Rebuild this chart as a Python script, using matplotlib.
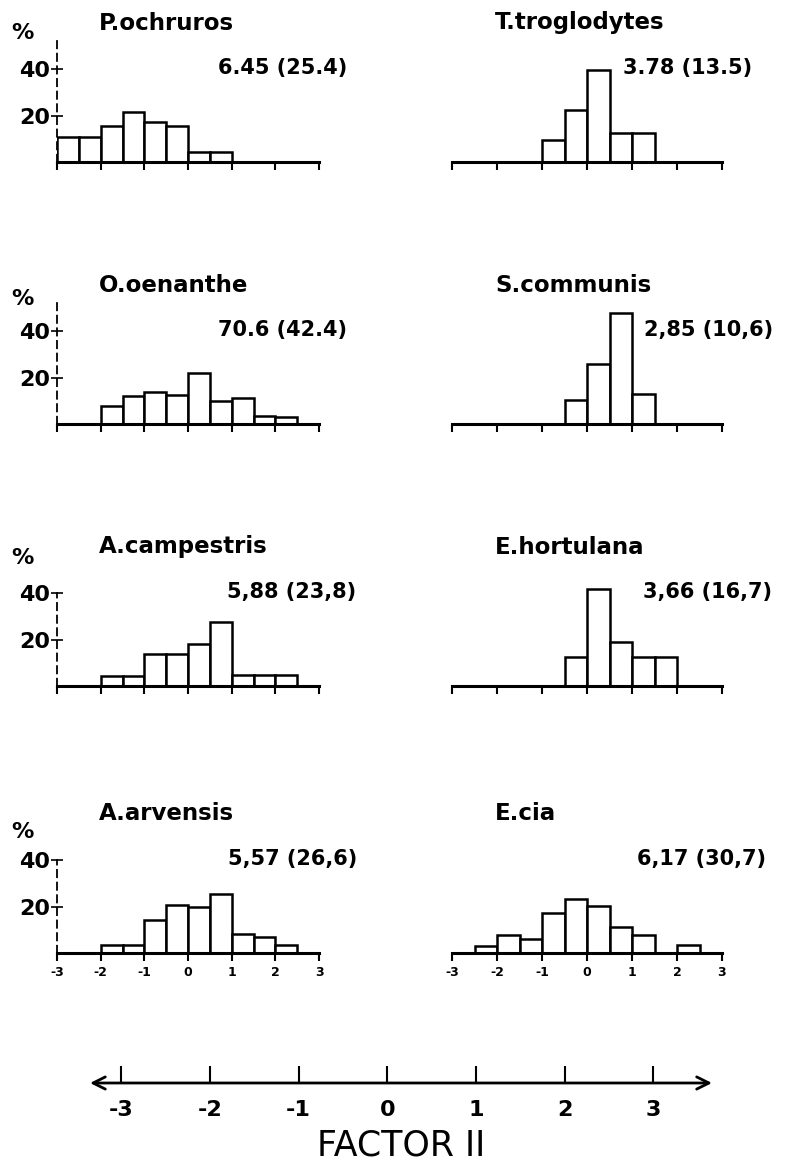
import matplotlib
matplotlib.use("Agg")
import matplotlib.pyplot as plt

# bins of width 0.5 from -3 to 3, values in %
bin_left = [-3.0, -2.5, -2.0, -1.5, -1.0, -0.5, 0.0, 0.5, 1.0, 1.5, 2.0, 2.5]

species = ["P.ochruros", "T.troglodytes", "O.oenanthe", "S.communis",
           "A.campestris", "E.hortulana", "A.arvensis", "E.cia"]
stats = ["6.45 (25.4)", "3.78 (13.5)", "70.6 (42.4)", "2,85 (10,6)",
         "5,88 (23,8)", "3,66 (16,7)", "5,57 (26,6)", "6,17 (30,7)"]

ochruros = [10.8, 10.8, 15.5, 21.6, 17.2, 15.5, 4.3, 4.3, 0, 0, 0, 0]
troglodytes = [0, 0, 0, 0, 9.3, 22.6, 39.8, 12.5, 12.5, 0, 0, 0]
oenanthe = [0, 0, 7.6, 12.2, 13.8, 12.5, 22.0, 10.0, 11.0, 3.3, 2.9, 0]
communis = [0, 0, 0, 0, 0, 10.2, 26.0, 48.0, 13.0, 0, 0, 0]
campestris = [0, 0, 4.3, 4.3, 13.8, 13.8, 18.1, 27.4, 4.7, 4.7, 4.7, 0]
hortulana = [0, 0, 0, 0, 0, 12.6, 41.8, 18.8, 12.6, 12.6, 0, 0]
arvensis = [0, 0, 3.3, 3.3, 14.1, 20.8, 19.8, 25.4, 8.2, 6.7, 3.3, 0]
cia = [0, 2.9, 7.6, 6.0, 17.2, 23.4, 20.1, 11.0, 7.6, 0, 3.3, 0]
series = [ochruros, troglodytes, oenanthe, communis,
          campestris, hortulana, arvensis, cia]

xticks = [-3, -2, -1, 0, 1, 2, 3]
xtick_labels = ["-3", "-2", "-1", "0", "1", "2", "3"]

W, H = 785, 1166
fig = plt.figure(figsize=(W / 100, H / 100), dpi=100)
plt.rcParams['font.family'] = ['DejaVu Sans']

baselines = [162, 424, 686, 953]
col_x = [(57, 319), (452, 722)]
title_x = [99, 495]
stat_x = [[218, 623], [218, 644], [227, 643], [228, 637]]
pct_y = [33, 299, 558, 832]
dash_top = [52, 52, 40, 40]
px_per = 2.32
ymax = 55

for i, (name, st, vals) in enumerate(zip(species, stats, series)):
    row, col = divmod(i, 2)
    base = baselines[row]
    x0, x1 = col_x[col]
    ax = fig.add_axes([x0 / W, 1 - base / H, (x1 - x0) / W, ymax * px_per / H])
    xs = [b for b, v in zip(bin_left, vals) if v > 0]
    hs = [v for v in vals if v > 0]
    ax.bar(xs, hs, width=0.5, align='edge', facecolor='white',
           edgecolor='black', linewidth=1.8, zorder=2)
    ax.set_xlim(-3, 3)
    ax.set_ylim(0, ymax)
    ax.spines['top'].set_visible(False)
    ax.spines['right'].set_visible(False)
    ax.spines['bottom'].set_linewidth(2.2)
    ax.spines['bottom'].set_zorder(3)
    ax.set_xticks(xticks)
    ax.tick_params(axis='x', direction='out', length=6, width=1.5, pad=3)
    if row == 3:
        ax.set_xticklabels(xtick_labels, fontsize=9, fontweight='bold')
    else:
        ax.set_xticklabels([])
    if col == 0:
        ax.spines['left'].set_linestyle((0, (4, 3)))
        ax.spines['left'].set_linewidth(1.3)
        ax.spines['left'].set_bounds(0, dash_top[row])
        ax.set_yticks([20, 40])
        ax.set_yticklabels(["20", "40"], fontsize=16, fontweight='bold')
        ax.tick_params(axis='y', direction='inout', length=8, width=1.2, pad=1)
        fig.text(11 / W, 1 - pct_y[row] / H, "%", fontsize=16, fontweight='bold',
                 ha='left', va='center')
    else:
        ax.spines['left'].set_visible(False)
        ax.set_yticks([])
    ax.patch.set_alpha(0)
    fig.text(title_x[col] / W, 1 - (base - 139) / H, name, fontsize=16.5,
             fontweight='bold', ha='left', va='center')
    fig.text(stat_x[row][col] / W, 1 - (base - 94) / H, st, fontsize=15,
             fontweight='bold', ha='left', va='center')

# common factor axis with arrows
axb = fig.add_axes([90 / W, 1 - 1083 / H, (712 - 90) / W, 20 / H])
axb.set_xlim(-3.35, 3.66)
axb.set_ylim(0, 1)
for s in axb.spines.values():
    s.set_visible(False)
axb.annotate('', xy=(3.66, 0), xytext=(-3.35, 0),
             arrowprops=dict(arrowstyle='<->', lw=2, color='black',
                             mutation_scale=22, shrinkA=0, shrinkB=0),
             annotation_clip=False)
axb.set_yticks([])
axb.set_xticks(xticks)
axb.set_xticklabels(xtick_labels, fontsize=16, fontweight='bold')
axb.tick_params(axis='x', direction='in', length=12, width=1.5, pad=12)
axb.set_xlabel("FACTOR II", fontsize=25, labelpad=6)
axb.patch.set_alpha(0)

fig.savefig("out.png", dpi=100)
